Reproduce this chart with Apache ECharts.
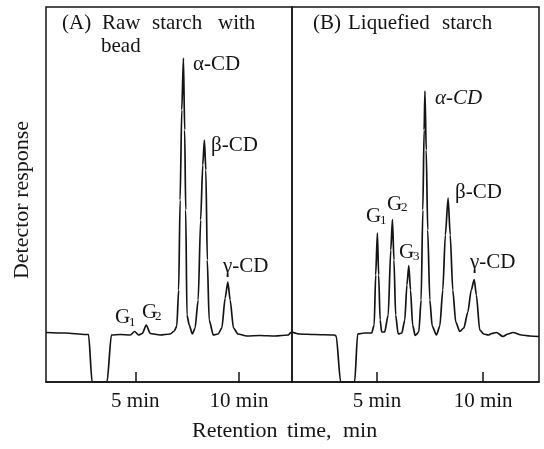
<!DOCTYPE html>
<html>
<head>
<meta charset="utf-8">
<script src="https://cdn.jsdelivr.net/npm/echarts@6/dist/echarts.min.js"></script>
<style>
html,body{margin:0;padding:0;background:#fff;}
#chart{width:544px;height:449px;}
</style>
</head>
<body>
<div id="chart"></div>
<script>
// Panel A: Raw starch with bead — retention time (min) vs detector response (arbitrary units)
var timeA = [0.70, 1.63, 2.60, 2.75, 2.92, 3.64, 3.85, 4.28, 4.76, 4.97, 5.16, 5.34, 5.53, 5.72, 6.20, 6.68, 6.88, 7.00, 7.09, 7.16, 7.24, 7.32, 7.38, 7.43, 7.49, 7.60, 7.75, 7.88, 8.03, 8.15, 8.25, 8.33, 8.40, 8.47, 8.56, 8.76, 8.99, 9.17, 9.33, 9.46, 9.57, 9.73, 9.95, 10.37, 11.01, 11.73, 12.36, 12.50];
var respA = [9.9, 9.8, 9.5, 9.5, 0, 0, 9.4, 9.5, 9.4, 10.1, 9.4, 9.7, 11.4, 9.7, 9.4, 9.6, 10.2, 11.2, 18.4, 36.4, 54.4, 64.8, 50.4, 34.4, 13.4, 11.4, 9.6, 10.8, 16.4, 32.4, 43.4, 48.4, 42.4, 24.4, 12.4, 9.4, 9.6, 10.8, 16.8, 20.0, 16.4, 10.8, 9.6, 9.2, 9.3, 9.2, 9.4, 10.0];

// Panel B: Liquefied starch
var timeB = [1.00, 1.35, 2.06, 3.00, 3.08, 3.29, 3.95, 4.09, 4.42, 4.75, 4.87, 4.94, 5.02, 5.08, 5.15, 5.22, 5.36, 5.53, 5.65, 5.73, 5.80, 5.88, 6.00, 6.17, 6.31, 6.41, 6.50, 6.58, 6.68, 6.80, 6.97, 7.08, 7.16, 7.22, 7.26, 7.32, 7.39, 7.49, 7.60, 7.80, 7.96, 8.10, 8.22, 8.35, 8.45, 8.57, 8.71, 8.90, 9.09, 9.28, 9.44, 9.58, 9.68, 9.84, 10.03, 10.24, 10.41, 10.63, 10.93, 11.17, 11.40, 11.81, 12.20, 12.63];
var respB = [10.0, 9.6, 9.5, 9.4, 9.2, 0, 0, 9.6, 9.8, 9.8, 11.4, 21.4, 29.8, 21.4, 12.4, 10.0, 10.0, 13.4, 26.4, 32.5, 24.4, 13.4, 9.6, 9.8, 12.4, 19.4, 23.3, 18.4, 11.4, 9.3, 10.0, 16.4, 34.4, 50.4, 58.2, 46.4, 30.4, 16.4, 11.2, 9.4, 11.2, 18.4, 29.4, 36.8, 29.4, 18.4, 12.0, 10.1, 10.8, 14.0, 18.4, 20.5, 17.4, 10.4, 9.6, 9.4, 9.7, 9.9, 9.1, 9.6, 9.9, 9.4, 9.2, 9.1];

var tickValues = [5, 10];
var tickUnit = 'min';
var xTitleWords = ['Retention', 'time,', 'min'];
var yTitle = 'Detector response';
var titleAWords = ['(A)', 'Raw', 'starch', 'with', 'bead'];
var titleBWords = ['(B)', 'Liquefied', 'starch'];

function pairs(t, v) { return t.map(function (x, i) { return [x, v[i]]; }); }

var FONT = '"Liberation Serif", "DejaVu Serif", serif';
var INK = '#141414';

function txt(s, x, y, size, extra) {
  var st = { text: s, x: x, y: y, font: (extra && extra.italic ? 'italic ' : '') + size + 'px ' + FONT, fill: INK, textAlign: 'left', textVerticalAlign: 'middle' };
  return { type: 'text', z: 100, style: st };
}

var graphics = [
  // panel titles
  txt(titleAWords[0], 62, 23, 21), txt(titleAWords[1], 102, 23, 21), txt(titleAWords[2], 152, 23, 21), txt(titleAWords[3], 218, 23, 21),
  txt(titleAWords[4], 101, 46, 21),
  txt(titleBWords[0], 313, 23, 21), txt(titleBWords[1], 348, 23, 21), txt(titleBWords[2], 442, 23, 21),
  // peak labels panel A
  txt('α-CD', 193, 64, 21), txt('β-CD', 211, 145, 21), txt('γ-CD', 223, 266, 21),
  txt('G', 115, 317, 21), txt('1', 129, 323, 13),
  txt('G', 142, 312, 21), txt('2', 155, 317, 13),
  // peak labels panel B
  txt('α-CD', 435, 98, 21, { italic: true }), txt('β-CD', 455, 192, 21), txt('γ-CD', 470, 262, 21),
  txt('G', 366, 216, 21), txt('1', 380, 221, 13),
  txt('G', 387, 204, 21), txt('2', 401, 208, 13),
  txt('G', 399, 252, 21), txt('3', 413, 257, 13),
  // axis titles
  txt(xTitleWords[0], 192, 431, 22), txt(xTitleWords[1], 287, 431, 22), txt(xTitleWords[2], 343, 431, 22),
  { type: 'text', z: 100, x: 22, y: 200, rotation: Math.PI / 2,
    style: { text: yTitle, font: '22px ' + FONT, fill: INK, textAlign: 'center', textVerticalAlign: 'middle' } }
];

function xAxisDef(idx, min, max) {
  return {
    type: 'value', gridIndex: idx, min: min, max: max,
    axisLine: { show: true, lineStyle: { color: INK, width: 1.5 } },
    axisTick: { show: true, inside: true, length: 10, customValues: tickValues, lineStyle: { color: INK, width: 1.5 } },
    axisLabel: { show: true, customValues: tickValues, margin: 9, formatter: function (v) { return v + ' ' + tickUnit; },
      fontFamily: FONT, fontSize: 21, color: INK },
    splitLine: { show: false }
  };
}
function yAxisDef(idx) {
  return { type: 'value', gridIndex: idx, min: 0, max: 75, show: false, splitLine: { show: false } };
}

var chart = echarts.init(document.getElementById('chart'), null, { renderer: 'canvas' });
chart.setOption({
  animation: false,
  backgroundColor: '#fff',
  grid: [
    { left: 46, top: 7, width: 246, height: 375, show: true, borderColor: INK, borderWidth: 1.5, backgroundColor: 'transparent' },
    { left: 292, top: 7, width: 247, height: 375, show: true, borderColor: INK, borderWidth: 1.5, backgroundColor: 'transparent' }
  ],
  xAxis: [xAxisDef(0, 0.7, 12.55), xAxisDef(1, 1.0, 12.63)],
  yAxis: [yAxisDef(0), yAxisDef(1)],
  series: [
    { type: 'line', xAxisIndex: 0, yAxisIndex: 0, data: pairs(timeA, respA), showSymbol: false, symbol: 'none',
      smooth: 0.25, smoothMonotone: 'x', lineStyle: { color: INK, width: 1.7 }, clip: true },
    { type: 'line', xAxisIndex: 1, yAxisIndex: 1, data: pairs(timeB, respB), showSymbol: false, symbol: 'none',
      smooth: 0.25, smoothMonotone: 'x', lineStyle: { color: INK, width: 1.7 }, clip: true }
  ],
  graphic: graphics
});
</script>
</body>
</html>
